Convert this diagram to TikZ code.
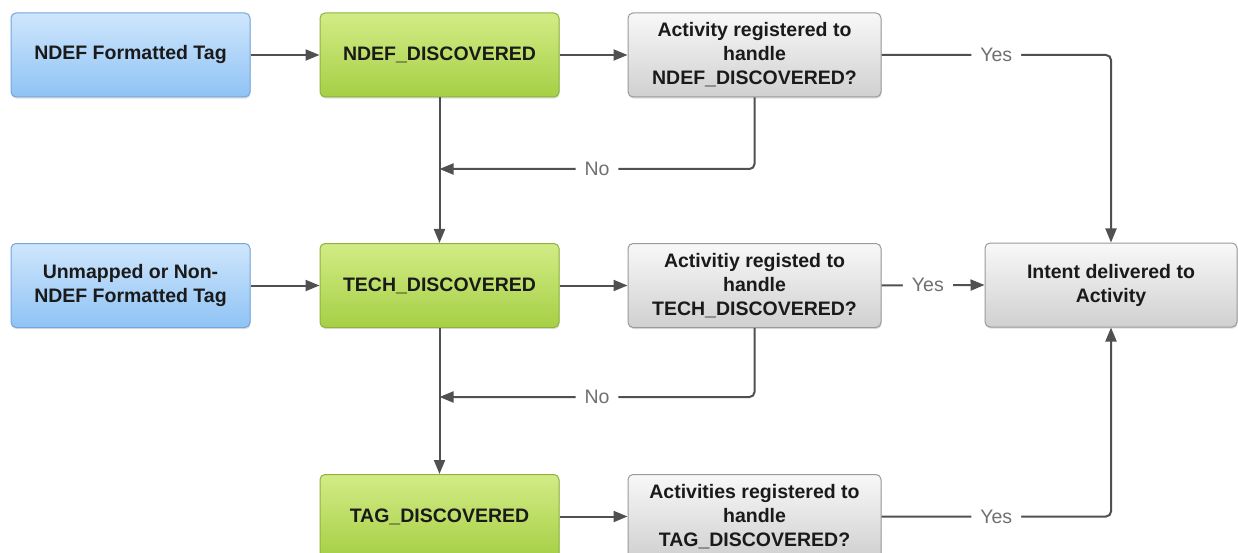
\documentclass[tikz,border=0pt]{standalone}
\usepackage{fontspec}
\setmainfont{Liberation Sans}
\usetikzlibrary{arrows.meta,shadows,calc}
\definecolor{bluetop}{HTML}{CFE6FC}
\definecolor{bluebot}{HTML}{8FC3F5}
\definecolor{blueedge}{HTML}{74A6DC}
\definecolor{greentop}{HTML}{D2EC86}
\definecolor{greenbot}{HTML}{A6CF45}
\definecolor{greenedge}{HTML}{8DB33C}
\definecolor{graytop}{HTML}{F8F8F8}
\definecolor{graybot}{HTML}{D0D0D0}
\definecolor{grayedge}{HTML}{9A9A9A}
\definecolor{linec}{HTML}{505050}
\definecolor{lblc}{HTML}{707070}
\definecolor{txtc}{HTML}{1A1A1A}
\tikzset{
  box/.style={rounded corners=5pt, line width=1pt, inner sep=0pt, align=center,
    text=txtc, font=\fontsize{19.5}{24}\selectfont\bfseries,
    drop shadow={shadow xshift=0.6pt, shadow yshift=-1.6pt, opacity=0.25}},
  bluebox/.style={box, draw=blueedge, top color=bluetop, bottom color=bluebot,
    minimum width=239pt, minimum height=84pt},
  greenbox/.style={box, draw=greenedge, top color=greentop, bottom color=greenbot,
    minimum width=239pt, minimum height=84pt},
  graybox/.style={box, draw=grayedge, top color=graytop, bottom color=graybot,
    minimum width=253pt, minimum height=84pt},
  conn/.style={draw=linec, line width=2pt, rounded corners=5pt,
    -{Triangle[length=14pt,width=11pt]}},
  lbl/.style={fill=white, text=lblc, inner xsep=9pt, inner ysep=2pt,
    font=\fontsize{19.5}{22}\selectfont}
}
\begin{document}
\begin{tikzpicture}[x=1pt,y=-1pt]
\useasboundingbox (0,0) rectangle (1238,553);
\clip (0,0) rectangle (1238,553);
\fill[white] (0,0) rectangle (1238,553);

\node[bluebox] (b1) at (130.5,55) {NDEF Formatted Tag};
\node[greenbox] (g1) at (439.5,55) {NDEF\_DISCOVERED};
\node[graybox] (q1) at (754.5,55) {Activity registered to\\handle\\NDEF\_DISCOVERED?};

\node[bluebox] (b2) at (130.5,285.5) {Unmapped or Non-\\NDEF Formatted Tag};
\node[greenbox] (g2) at (439.5,285.5) {TECH\_DISCOVERED};
\node[graybox] (q2) at (754.5,285.5) {Activitiy registed to\\handle\\TECH\_DISCOVERED?};
\node[graybox, minimum width=252pt] (res) at (1111,285) {Intent delivered to\\Activity};

\node[greenbox] (g3) at (439.5,516.5) {TAG\_DISCOVERED};
\node[graybox] (q3) at (754.5,516.5) {Activities registered to\\handle\\TAG\_DISCOVERED?};

\coordinate (n1) at (439.5,169);
\coordinate (n2) at (439.5,397);

\draw[conn] (b1) -- (g1);
\draw[conn] (g1) -- (q1);
\draw[conn] (q1.east) -| node[lbl, pos=0.25] {Yes} (res.north);
\draw[conn] (q1.south) |- node[lbl, pos=0.75] {No} (n1);
\draw[conn] (g1.south) -- (g2.north);

\draw[conn] (b2) -- (g2);
\draw[conn] (g2) -- (q2);
\draw[conn] (q2.east) -- node[lbl, pos=0.45] {Yes} (res.west);
\draw[conn] (q2.south) |- node[lbl, pos=0.75] {No} (n2);
\draw[conn] (g2.south) -- (g3.north);

\draw[conn] (g3) -- (q3);
\draw[conn] (q3.east) -| node[lbl, pos=0.25] {Yes} (res.south);
\end{tikzpicture}
\end{document}
